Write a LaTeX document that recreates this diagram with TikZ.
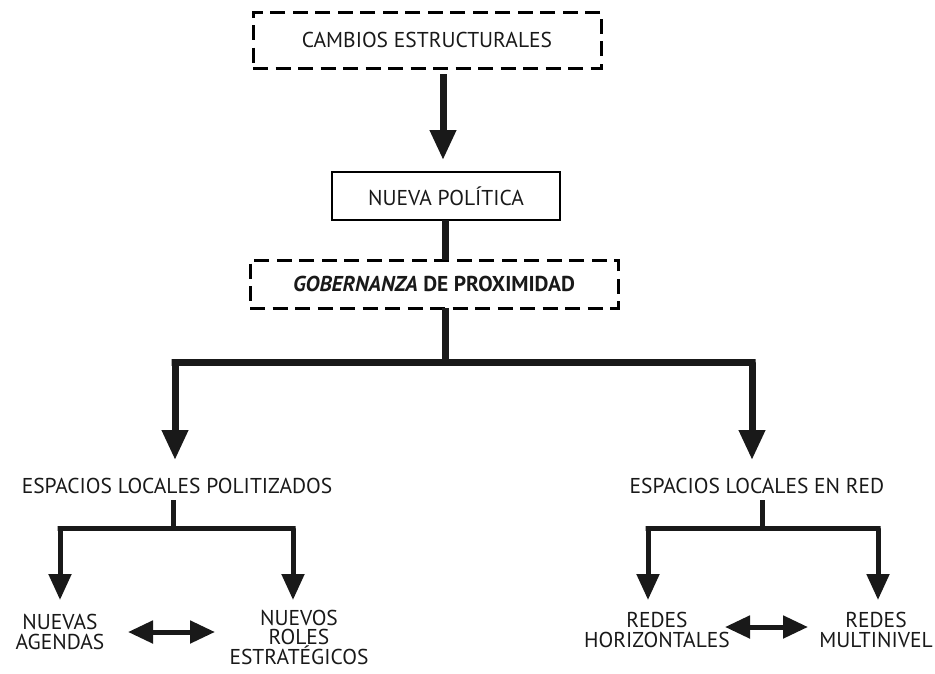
\documentclass[tikz,border=0pt]{standalone}
\usepackage{fontspec}
\setmainfont{PT Sans}
\usetikzlibrary{arrows.meta}
\begin{document}
\begin{tikzpicture}[x=1pt,y=-1pt,
  txt/.style={font=\fontsize{21.5}{20.5}\selectfont, inner sep=0pt, align=center, text=black!90},
  dbox/.style={draw, line width=3pt, dash pattern=on 15pt off 7.5pt, txt},
  sbox/.style={draw, line width=2.5pt, txt},
  thick line/.style={line width=7pt, draw=black!90},
  big arrow/.style={line width=7pt, draw=black!90, -{Triangle[width=25pt,length=30pt]}},
  mid line/.style={line width=5pt, draw=black!90},
  mid arrow/.style={line width=5pt, draw=black!90, -{Triangle[width=22pt,length=26pt]}},
  dbl arrow/.style={line width=5pt, draw=black!90, {Triangle[width=22pt,length=25pt]}-{Triangle[width=22pt,length=25pt]}}
]
\useasboundingbox (0,0) rectangle (935,673);

\node[dbox, minimum width=348pt, minimum height=56pt] (cambios) at (427,40) {CAMBIOS ESTRUCTURALES};
\node[sbox, minimum width=228pt, minimum height=48pt] (nueva) at (446,196) {NUEVA POLÍTICA};
\node[dbox, minimum width=368pt, minimum height=48pt, font=\fontsize{21.5}{20.5}\selectfont\bfseries] (gob) at (434,284) {\textit{GOBERNANZA} DE PROXIMIDAD};

\node[txt] (espL) at (177,486) {ESPACIOS LOCALES POLITIZADOS};
\node[txt] (espR) at (757,486) {ESPACIOS LOCALES EN RED};

\node[txt] (nuevas) at (60,632) {NUEVAS\\AGENDAS};
\node[txt, font=\fontsize{21.5}{19.5}\selectfont] (roles) at (299,637) {NUEVOS\\ROLES\\ESTRATÉGICOS};
\node[txt] (redesH) at (657,630) {REDES\\HORIZONTALES};
\node[txt] (redesM) at (876,630) {REDES\\MULTINIVEL};

% top arrow
\coordinate (a1s) at (443,74);
\coordinate (a1e) at (443,160);
\draw[big arrow] (a1s) -- (a1e);
% nueva -> gob
\coordinate (n1) at (445,220);
\coordinate (n2) at (445,260);
\draw[thick line] (n1) -- (n2);
% main branch
\coordinate (g1) at (445,308);
\coordinate (bar) at (445,362);
\coordinate (barL) at (175,362);
\coordinate (barR) at (752,362);
\coordinate (tipL) at (175,460);
\coordinate (tipR) at (752,460);
\draw[thick line] (g1) -- (bar);
\draw[big arrow] (bar) -- ([xshift=-3.5pt]barL) -- (barL) -- (tipL);
\draw[big arrow] (bar) -- ([xshift=3.5pt]barR) -- (barR) -- (tipR);

% left sub-branch
\coordinate (l0) at (173,500);
\coordinate (l1) at (173,528);
\coordinate (lL) at (60,528);
\coordinate (lR) at (293,528);
\coordinate (ltL) at (60,600);
\coordinate (ltR) at (293,600);
\draw[mid line] (l0) -- (l1);
\draw[mid arrow] (l1) -- ([xshift=-2.5pt]lL) -- (lL) -- (ltL);
\draw[mid arrow] (l1) -- ([xshift=2.5pt]lR) -- (lR) -- (ltR);

% right sub-branch
\coordinate (r0) at (762,500);
\coordinate (r1) at (762,528);
\coordinate (rL) at (648,528);
\coordinate (rR) at (878,528);
\coordinate (rtL) at (648,600);
\coordinate (rtR) at (878,600);
\draw[mid line] (r0) -- (r1);
\draw[mid arrow] (r1) -- ([xshift=-2.5pt]rL) -- (rL) -- (rtL);
\draw[mid arrow] (r1) -- ([xshift=2.5pt]rR) -- (rR) -- (rtR);

% double arrows
\coordinate (d1a) at (128,632);
\coordinate (d1b) at (215,632);
\draw[dbl arrow] (d1a) -- (d1b);
\coordinate (d2a) at (725,627);
\coordinate (d2b) at (808,627);
\draw[dbl arrow] (d2a) -- (d2b);
\end{tikzpicture}
\end{document}
